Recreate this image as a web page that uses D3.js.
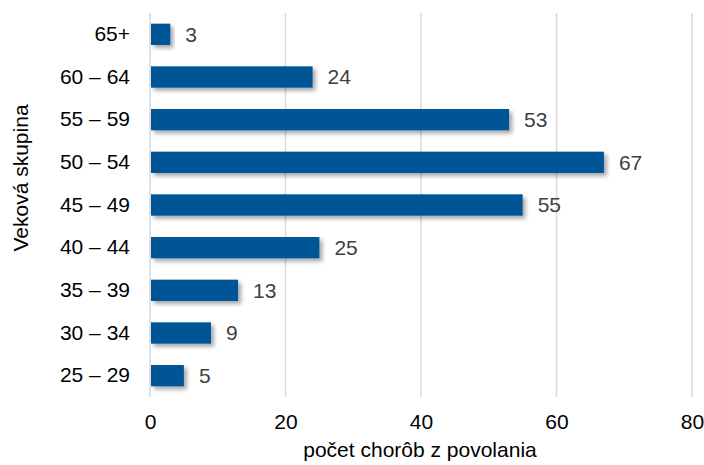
<!DOCTYPE html>
<html>
<head>
<meta charset="utf-8">
<script src="https://cdn.jsdelivr.net/npm/d3@7"></script>
<style>
  body { margin: 0; background: #fff; }
  text { font-family: "Liberation Sans", Arial, sans-serif; }
</style>
</head>
<body>
<div id="chart"></div>
<script>
// Data
var categories = ["65+", "60 – 64", "55 – 59", "50 – 54", "45 – 49", "40 – 44", "35 – 39", "30 – 34", "25 – 29"];
var values = [3, 24, 53, 67, 55, 25, 13, 9, 5];
var xTicks = [0, 20, 40, 60, 80];

var svgWidth = 704;
var svgHeight = 465;
var fontSize = 21;

var margin = { top: 13, right: 12, bottom: 68, left: 150 };
var chartWidth = svgWidth - margin.left - margin.right;
var chartHeight = svgHeight - margin.top - margin.bottom;

var svg = d3.select("#chart")
    .append("svg")
    .attr("width", svgWidth)
    .attr("height", svgHeight);

// drop shadow for the bars
var defs = svg.append("defs");
var filter = defs.append("filter")
    .attr("id", "shadow")
    .attr("x", "-10%").attr("y", "-30%")
    .attr("width", "130%").attr("height", "180%");
filter.append("feDropShadow")
    .attr("dx", 3).attr("dy", 3)
    .attr("stdDeviation", 2)
    .attr("flood-color", "#000")
    .attr("flood-opacity", 0.35);

var g = svg.append("g")
    .attr("transform", `translate(${margin.left}, ${margin.top})`);

var x = d3.scaleLinear()
    .domain([0, 80])
    .range([0, chartWidth]);

var y = d3.scaleBand()
    .domain(categories)
    .range([0, chartHeight])
    .paddingInner(0.5)
    .paddingOuter(0.25);

// gridlines
g.selectAll(".grid")
    .data(xTicks)
    .enter()
    .append("line")
    .attr("x1", d => x(d))
    .attr("x2", d => x(d))
    .attr("y1", 0)
    .attr("y2", chartHeight)
    .attr("stroke", "#d9d9d9")
    .attr("stroke-width", 1.5);

// bars
g.selectAll(".bar")
    .data(values)
    .enter()
    .append("rect")
    .attr("x", 1)
    .attr("y", (d, i) => y(categories[i]))
    .attr("width", d => x(d) - 1)
    .attr("height", y.bandwidth())
    .attr("fill", "#005496")
    .attr("filter", "url(#shadow)");

// value labels
g.selectAll(".val")
    .data(values)
    .enter()
    .append("text")
    .attr("x", d => x(d) + 15)
    .attr("y", (d, i) => y(categories[i]) + y.bandwidth() / 2)
    .attr("dy", "0.35em")
    .attr("font-size", fontSize)
    .attr("fill", "#404040")
    .text(d => d);

// y axis labels
var yAxis = d3.axisLeft(y).tickSize(0).tickPadding(20);
var yG = g.append("g").call(yAxis);
yG.select(".domain").remove();
yG.selectAll("text")
    .attr("font-size", fontSize)
    .attr("fill", "#000")
    .style("font-family", "'Liberation Sans', Arial, sans-serif");

// x axis labels
var xAxis = d3.axisBottom(x).tickValues(xTicks).tickSize(0).tickPadding(17);
var xG = g.append("g")
    .attr("transform", `translate(0, ${chartHeight})`)
    .call(xAxis);
xG.select(".domain").remove();
xG.selectAll("text")
    .attr("font-size", fontSize)
    .attr("fill", "#000")
    .style("font-family", "'Liberation Sans', Arial, sans-serif");

// axis titles
svg.append("text")
    .attr("x", 420)
    .attr("y", 457)
    .attr("text-anchor", "middle")
    .attr("font-size", fontSize)
    .attr("fill", "#000")
    .text("počet chorôb z povolania");

svg.append("text")
    .attr("transform", "translate(28, 178) rotate(-90)")
    .attr("text-anchor", "middle")
    .attr("font-size", fontSize)
    .attr("fill", "#000")
    .text("Veková skupina");
</script>
</body>
</html>
